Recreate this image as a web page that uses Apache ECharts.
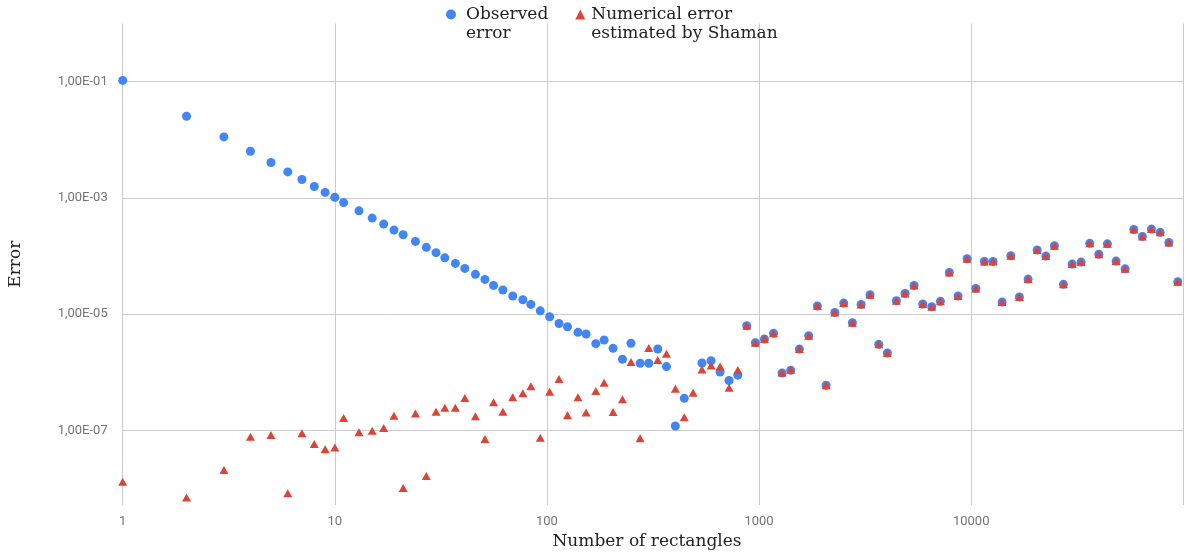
<!DOCTYPE html>
<html>
<head>
<meta charset="utf-8">
<script src="https://cdn.jsdelivr.net/npm/echarts@6/dist/echarts.min.js"></script>
<style>
  html, body { margin: 0; padding: 0; background: #fff; }
  #chart { width: 1195px; height: 554px; }
</style>
</head>
<body>
<div id="chart"></div>
<script>
// number of rectangles (x)
const rectangles = [
  1, 2, 3, 4, 5, 6, 7, 8, 9, 10, 11, 13, 15, 17, 19, 21, 24, 27, 30, 33, 37, 41, 46, 51, 56, 62, 69, 77, 84, 93,
  103, 114, 125, 140, 153, 170, 186, 205, 227, 249, 275, 302, 333, 366, 403, 444, 489, 538, 594, 655, 722, 794,
  875, 961, 1060, 1170, 1284, 1410, 1549, 1714, 1884, 2071, 2275, 2507, 2754, 3027, 3337, 3666, 4027, 4440,
  4878, 5379, 5912, 6519, 7160, 7890, 8672, 9570, 10520, 11540, 12680, 13990, 15380, 16880, 18550, 20460,
  22480, 24680, 27220, 29920, 32980, 36230, 39980, 43870, 48200, 53170, 58430, 64140, 70760, 77800, 85500, 94200
]

// observed error ('-' = no point drawn)
const observedError = [
  1.05e-1, 2.54e-2, 1.12e-2, 6.35e-3, 4.06e-3, 2.8e-3, 2.07e-3, 1.57e-3, 1.24e-3, 1.02e-3, 8.3e-4, 5.98e-4,
  4.49e-4, 3.54e-4, 2.79e-4, 2.32e-4, 1.78e-4, 1.41e-4, 1.14e-4, 9.3e-5, 7.46e-5, 6.12e-5, 4.83e-5, 3.96e-5,
  3.12e-5, 2.6e-5, 2.05e-5, 1.77e-5, 1.47e-5, 1.14e-5, 9.0e-6, 6.9e-6, 6.07e-6, 4.86e-6, 4.55e-6, 3.1e-6,
  3.58e-6, 2.58e-6, 1.67e-6, 3.15e-6, 1.43e-6, 1.43e-6, 2.51e-6, 1.25e-6, 1.19e-7, 3.56e-7, '-', 1.44e-6,
  1.58e-6, 1.01e-6, 7.2e-7, 8.9e-7,
  6.3e-6, 3.22e-6, 3.73e-6, 4.67e-6, 9.7e-7, 1.08e-6, 2.5e-6, 4.25e-6, 1.38e-5, 5.97e-7, 1.07e-5, 1.55e-5,
  7.1e-6, 1.47e-5, 2.15e-5, 3.02e-6, 2.14e-6, 1.7e-5, 2.27e-5, 3.12e-5, 1.49e-5, 1.34e-5, 1.66e-5, 5.22e-5,
  2.05e-5, 8.95e-5, 2.77e-5, 8.07e-5, 8.07e-5, 1.61e-5, 1.01e-4, 1.97e-5, 4.01e-5, 1.27e-4, 9.96e-5, 1.5e-4,
  3.25e-5, 7.26e-5, 7.85e-5, 1.65e-4, 1.07e-4, 1.62e-4, 8.17e-5, 6.02e-5, 2.86e-4, 2.17e-4, 2.9e-4, 2.55e-4,
  1.71e-4, 3.6e-5
]

// numerical error estimated by Shaman
const shamanError = [
  1.31e-8, 6.97e-9, 2.09e-8, 7.8e-8, 8.34e-8, 8.3e-9, 8.9e-8, 5.84e-8, 4.73e-8, 5.05e-8, 1.63e-7, 9.27e-8,
  9.88e-8, 1.1e-7, 1.79e-7, 1.02e-8, 1.95e-7, 1.64e-8, 2.1e-7, 2.46e-7, 2.46e-7, 3.6e-7, 1.75e-7, 7.13e-8,
  3.04e-7, 2.1e-7, 3.7e-7, 4.34e-7, 5.73e-7, 7.5e-8, 4.63e-7, 7.66e-7, 1.82e-7, 3.7e-7, 2.02e-7, 4.76e-7,
  6.6e-7, 2.07e-7, 3.43e-7, 1.5e-6, 7.3e-8, 2.61e-6, 1.63e-6, 2.08e-6, 5.2e-7, 1.68e-7, 4.46e-7, 1.12e-6,
  1.31e-6, 1.26e-6, 5.42e-7, 1.09e-6,
  6.3e-6, 3.22e-6, 3.73e-6, 4.67e-6, 9.9e-7, 1.1e-6, 2.5e-6, 4.25e-6, 1.38e-5, 5.97e-7, 1.07e-5, 1.55e-5,
  7.1e-6, 1.47e-5, 2.15e-5, 3.02e-6, 2.14e-6, 1.7e-5, 2.27e-5, 3.12e-5, 1.49e-5, 1.34e-5, 1.66e-5, 5.22e-5,
  2.05e-5, 8.95e-5, 2.77e-5, 8.07e-5, 8.07e-5, 1.61e-5, 1.01e-4, 1.97e-5, 4.01e-5, 1.27e-4, 9.96e-5, 1.5e-4,
  3.25e-5, 7.26e-5, 7.85e-5, 1.65e-4, 1.07e-4, 1.62e-4, 8.17e-5, 6.02e-5, 2.86e-4, 2.17e-4, 2.9e-4, 2.55e-4,
  1.71e-4, 3.6e-5
]

const yTickValues = [1e-1, 1e-3, 1e-5, 1e-7]
const yTickLabels = ['1,00E-01', '1,00E-03', '1,00E-05', '1,00E-07']
const seriesNames = ['Observed\nerror', 'Numerical error\nestimated by Shaman']

const toPoints = (ys) => rectangles
  .map((n, i) => [n, ys[i]])
  .filter((p) => p[1] !== '-')

const serif = '"DejaVu Serif", serif'
const labelColor = '#757575'
const gridColor = '#cccccc'

const chart = echarts.init(document.getElementById('chart'), null, { renderer: 'canvas' })

chart.setOption({
  animation: false,
  grid: { left: 122.7, right: 11.7, top: 23.5, bottom: 49, outerBoundsMode: 'none' },
  legend: {
    top: -14,
    left: 446,
    padding: 0,
    itemWidth: 10,
    itemHeight: 10,
    itemGap: 27,
    selectedMode: false,
    // leading blank line keeps the icon level with the first text line
    formatter: (name) => '\n' + name,
    textStyle: {
      fontFamily: serif,
      fontSize: 17,
      color: '#222',
      lineHeight: 19,
    },
    data: [
      { name: seriesNames[0], icon: 'circle', textStyle: { padding: [0, 0, 0, 5] } },
      { name: seriesNames[1], icon: 'triangle', textStyle: { padding: [0, 0, 0, 1] } },
    ],
  },
  xAxis: {
    type: 'log',
    logBase: 10,
    min: 1,
    max: 100000,
    name: 'Number of rectangles',
    nameLocation: 'middle',
    nameGap: 25,
    nameTextStyle: { fontFamily: serif, fontSize: 17, color: '#222', padding: [0, 12, 0, 0] },
    axisLine: { show: false },
    axisTick: { show: false },
    axisLabel: {
      fontFamily: 'Roboto',
      fontSize: 13,
      color: labelColor,
      margin: 10,
      showMaxLabel: false,
      formatter: (v) => String(Math.round(v)),
    },
    splitLine: { show: true, lineStyle: { color: gridColor, width: 1 } },
  },
  yAxis: {
    type: 'log',
    logBase: 10,
    min: 5.2e-9,
    max: 1,
    name: 'Error',
    nameLocation: 'middle',
    nameGap: 99,
    nameTextStyle: { fontFamily: serif, fontSize: 17, color: '#222' },
    axisLine: { show: false },
    axisTick: { show: false, customValues: yTickValues },
    axisLabel: {
      fontFamily: 'Roboto',
      fontSize: 13,
      color: labelColor,
      margin: 15,
      customValues: yTickValues,
      formatter: (v) => {
        const i = yTickValues.findIndex((t) => Math.abs(Math.log10(t) - Math.log10(v)) < 1e-6)
        return i >= 0 ? yTickLabels[i] : ''
      },
    },
    splitLine: { show: true, lineStyle: { color: gridColor, width: 1 } },
  },
  series: [
    {
      name: seriesNames[0],
      type: 'scatter',
      symbol: 'circle',
      symbolSize: 9,
      itemStyle: { color: '#4285F4', opacity: 1 },
      emphasis: { disabled: true },
      data: toPoints(observedError),
    },
    {
      name: seriesNames[1],
      type: 'scatter',
      symbol: 'triangle',
      symbolSize: [9, 8],
      itemStyle: { color: '#DB4437', opacity: 1 },
      emphasis: { disabled: true },
      data: toPoints(shamanError),
    },
  ],
})
</script>
</body>
</html>
